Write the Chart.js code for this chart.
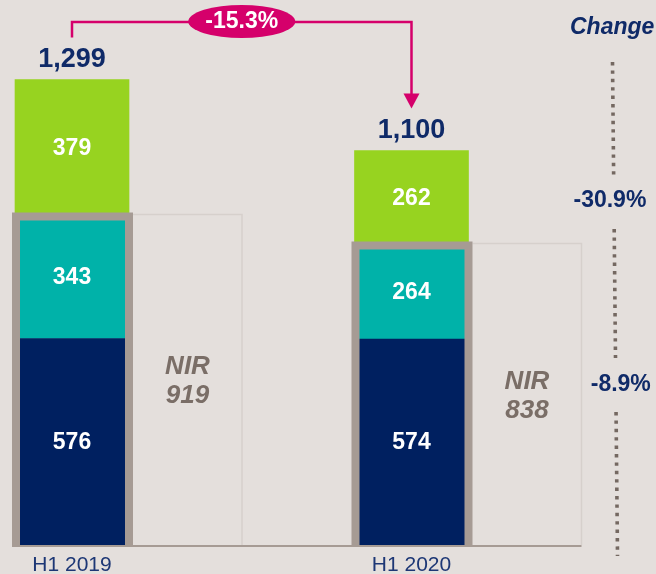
<!DOCTYPE html>
<html>
<head>
<meta charset="utf-8">
<script src="https://cdn.jsdelivr.net/npm/chart.js@4.4.1/dist/chart.umd.min.js"></script>
<style>
  html, body { margin: 0; padding: 0; background: #e4dfdc; }
  #wrap { position: relative; width: 656px; height: 574px; }
</style>
</head>
<body>
<div id="wrap"><canvas id="nirChart"></canvas></div>
<script>
// ── Data ───────────────────────────────────────────────────────
const periods      = ['H1 2019', 'H1 2020'];
const navyValues   = [576, 574];
const tealValues   = [343, 264];
const limeValues   = [379, 262];
const totalValues  = [1299, 1100];
const nirValues    = [919, 838];
const changeLabels = ['-30.9%', '-8.9%'];
const totalChange  = '-15.3%';

// ── Look ───────────────────────────────────────────────────────
const FONT      = "'Liberation Sans', Arial, Helvetica, sans-serif";
const NAVY      = '#002060';
const TEAL      = '#00b2a9';
const LIME      = '#97d320';
const TEXT_NAVY = '#0f2a68';
const FRAME     = '#a69b94';
const PINK      = '#d5006b';
const NIR_TEXT  = '#7a6e67';

const fmt = (v) => v.toLocaleString('en-US');

const toPoints = (vals) => vals.map((v, i) => ({ x: i, y: v }));

// Draws the frames, boxes, labels, arrow and change column
const overlay = {
  id: 'overlay',
  beforeDatasetsDraw(chart) {
    const { ctx } = chart;
    const teal = chart.getDatasetMeta(1).data;
    const navy = chart.getDatasetMeta(0).data;
    ctx.save();
    ctx.strokeStyle = '#d6d0cc';
    ctx.lineWidth = 1.5;
    navy.forEach((bar, i) => {
      const left = bar.x + 61, right = bar.x + 170, top = teal[i].y - 1;
      ctx.beginPath();
      ctx.moveTo(left, top);
      ctx.lineTo(right, top);
      ctx.lineTo(right, bar.base);
      ctx.stroke();
    });
    ctx.restore();
  },
  afterDatasetsDraw(chart) {
    const { ctx } = chart;
    const navy = chart.getDatasetMeta(0).data;
    const teal = chart.getDatasetMeta(1).data;
    const lime = chart.getDatasetMeta(2).data;
    ctx.save();

    // NIR frame round the bottom two segments
    ctx.strokeStyle = FRAME;
    ctx.lineWidth = 8;
    ctx.lineJoin = 'miter';
    navy.forEach((bar, i) => {
      const top = teal[i].y + 1;
      ctx.beginPath();
      ctx.moveTo(bar.x - 56, bar.base + 1);
      ctx.lineTo(bar.x - 56, top);
      ctx.lineTo(bar.x + 57, top);
      ctx.lineTo(bar.x + 57, bar.base + 1);
      ctx.stroke();
    });

    // baseline
    ctx.lineWidth = 2;
    ctx.beginPath();
    ctx.moveTo(navy[0].x - 60, navy[0].base + 1);
    ctx.lineTo(navy[1].x + 170, navy[1].base + 1);
    ctx.stroke();

    // segment values
    ctx.fillStyle = '#fff';
    ctx.font = `bold 23px ${FONT}`;
    ctx.textAlign = 'center';
    ctx.textBaseline = 'middle';
    [[navy, navyValues], [teal, tealValues], [lime, limeValues]].forEach(([els, vals]) => {
      els.forEach((el, i) => {
        const c = el.getCenterPoint();
        ctx.fillText(fmt(vals[i]), c.x, c.y + 1);
      });
    });

    // totals
    ctx.fillStyle = TEXT_NAVY;
    ctx.font = `bold 27px ${FONT}`;
    lime.forEach((el, i) => ctx.fillText(fmt(totalValues[i]), el.x, el.y - 20));

    // NIR text
    ctx.fillStyle = NIR_TEXT;
    ctx.font = `italic bold 26px ${FONT}`;
    navy.forEach((bar, i) => {
      const cx = bar.x + 115.5;
      const cy = (teal[i].y + bar.base) / 2;
      ctx.fillText('NIR', cx, cy - 13);
      ctx.fillText(fmt(nirValues[i]), cx, cy + 16);
    });

    // arrow between the totals
    const arrowY = 22;
    const x0 = lime[0].x, x1 = lime[1].x;
    const tipY = lime[1].y - 42;
    ctx.strokeStyle = PINK;
    ctx.fillStyle = PINK;
    ctx.lineWidth = 2.5;
    ctx.beginPath();
    ctx.moveTo(x0, lime[0].y - 42);
    ctx.lineTo(x0, arrowY);
    ctx.lineTo(x1, arrowY);
    ctx.lineTo(x1, tipY - 14);
    ctx.stroke();
    ctx.beginPath();
    ctx.moveTo(x1 - 8, tipY - 15);
    ctx.lineTo(x1 + 8, tipY - 15);
    ctx.lineTo(x1, tipY);
    ctx.closePath();
    ctx.fill();

    const pillX = (x0 + x1) / 2;
    ctx.beginPath();
    ctx.ellipse(pillX, arrowY - 0.5, 53.5, 16.5, 0, 0, Math.PI * 2);
    ctx.fill();
    ctx.fillStyle = '#fff';
    ctx.font = `bold 23px ${FONT}`;
    ctx.fillText(totalChange, pillX, arrowY);

    // change column
    ctx.fillStyle = TEXT_NAVY;
    ctx.font = `italic bold 23px ${FONT}`;
    ctx.textAlign = 'left';
    ctx.fillText('Change', 570, 28);

    const lineX = (y) => 612.5 + (y - 62) * 5 / 493;
    ctx.strokeStyle = '#746861';
    ctx.lineWidth = 3.6;
    ctx.setLineDash([3.4, 5]);
    [[62, 176], [229, 358], [412, 556]].forEach(([a, b]) => {
      ctx.beginPath();
      ctx.moveTo(lineX(a), a);
      ctx.lineTo(lineX(b), b);
      ctx.stroke();
    });
    ctx.setLineDash([]);

    ctx.textAlign = 'center';
    ctx.font = `bold 23px ${FONT}`;
    ctx.fillText(changeLabels[0], lineX(201) - 4, 201);
    ctx.fillText(changeLabels[1], lineX(385) + 5, 385);

    ctx.restore();
  }
};

const barStyle = { barThickness: 114, borderWidth: 0, borderSkipped: false };

new Chart(document.getElementById('nirChart'), {
  type: 'bar',
  data: {
    datasets: [
      { label: 'navy', data: toPoints(navyValues), backgroundColor: NAVY, ...barStyle },
      { label: 'teal', data: toPoints(tealValues), backgroundColor: TEAL, ...barStyle },
      { label: 'lime', data: toPoints(limeValues), backgroundColor: LIME, ...barStyle }
    ]
  },
  options: {
    responsive:          true,
    maintainAspectRatio: false,
    animation:           false,
    layout: { padding: 0 },
    plugins: {
      legend:  { display: false },
      tooltip: { enabled: false }
    },
    scales: {
      x: {
        type: 'linear',
        stacked: true,
        offset: false,
        min: -0.2121,
        max: 1.7202,
        grid:   { display: false, offset: false },
        border: { display: false },
        afterBuildTicks: (scale) => { scale.ticks = periods.map((_, i) => ({ value: i })); },
        afterFit: (scale) => { scale.height = 29; },
        ticks: {
          padding: 0,
          color: '#1d3775',
          font: { family: FONT, size: 21 },
          callback: (val) => periods[val] ?? ''
        }
      },
      y: {
        stacked: true,
        display: false,
        min: 0,
        max: 1520
      }
    }
  },
  plugins: [overlay]
});
</script>
</body>
</html>
